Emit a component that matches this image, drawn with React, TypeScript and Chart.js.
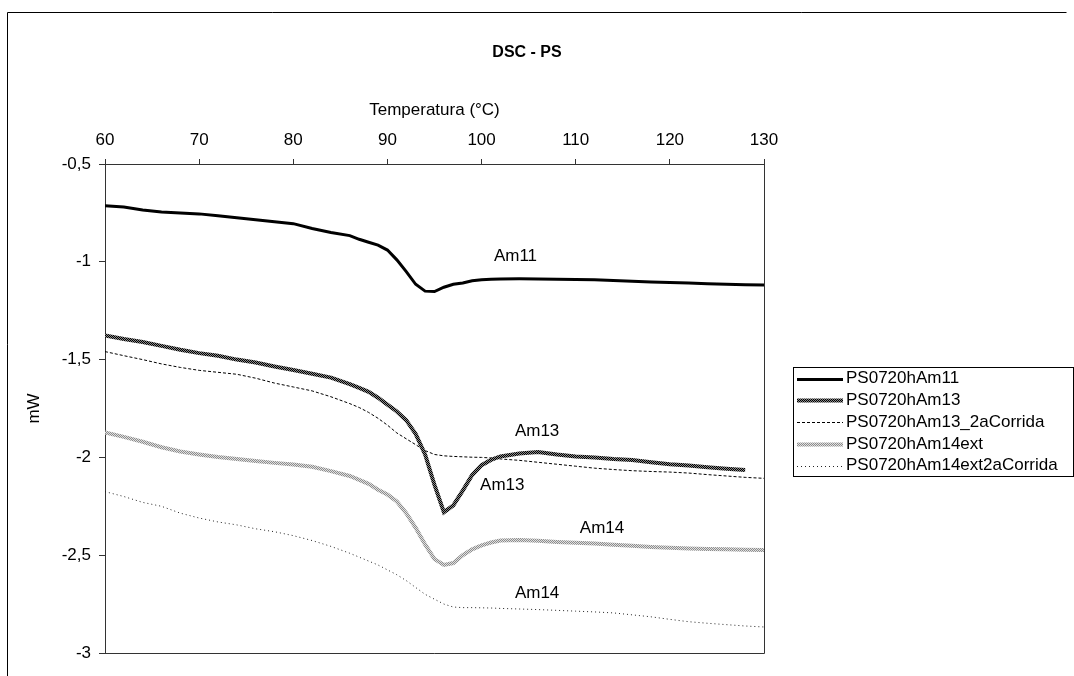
import React, { useEffect, useRef } from 'react';
import { Chart, registerables } from 'chart.js';

Chart.register(...registerables);

const FONT = "'Liberation Sans', Arial, sans-serif";

const chartTitle = 'DSC - PS';
const xAxisTitle = 'Temperatura (°C)';
const yAxisTitle = 'mW';

const temperatures = [60, 62, 64, 66, 68, 70, 72, 74, 76, 78, 80, 82, 84, 86, 87, 88, 89, 90, 91, 92, 93, 94, 95, 96, 97, 98, 99, 100, 101, 102, 104, 106, 108, 110, 112, 114, 116, 118, 120, 122, 124, 126, 128, 130];

const am11 = [-0.714, -0.72, -0.735, -0.745, -0.75, -0.755, -0.765, -0.775, -0.785, -0.795, -0.805, -0.83, -0.85, -0.866, -0.885, -0.9, -0.915, -0.94, -0.99, -1.05, -1.115, -1.15, -1.152, -1.13, -1.115, -1.108, -1.097, -1.092, -1.089, -1.088, -1.087, -1.088, -1.089, -1.09, -1.092, -1.095, -1.1, -1.103, -1.106, -1.109, -1.112, -1.115, -1.117, -1.118];

const am13 = [-1.377, -1.395, -1.41, -1.43, -1.45, -1.467, -1.48, -1.5, -1.515, -1.535, -1.553, -1.572, -1.592, -1.625, -1.645, -1.665, -1.695, -1.73, -1.765, -1.81, -1.88, -1.985, -2.14, -2.28, -2.245, -2.17, -2.09, -2.04, -2.013, -1.995, -1.98, -1.972, -1.985, -1.995, -2.0, -2.008, -2.013, -2.025, -2.035, -2.042, -2.05, -2.058, -2.064, null];

const am13Run2 = [-1.459, -1.48, -1.5, -1.522, -1.54, -1.555, -1.565, -1.575, -1.595, -1.62, -1.64, -1.66, -1.69, -1.725, -1.745, -1.77, -1.8, -1.835, -1.875, -1.905, -1.935, -1.965, -1.985, -1.992, -1.995, -1.997, -1.999, -2.0, -2.003, -2.008, -2.015, -2.025, -2.035, -2.045, -2.055, -2.062, -2.068, -2.072, -2.075, -2.08, -2.088, -2.095, -2.102, -2.107];

const am14ext = [-1.872, -1.895, -1.92, -1.948, -1.97, -1.985, -1.998, -2.008, -2.018, -2.028, -2.036, -2.048, -2.07, -2.095, -2.115, -2.135, -2.165, -2.19, -2.225, -2.285, -2.36, -2.445, -2.52, -2.55, -2.54, -2.5, -2.47, -2.45, -2.435, -2.425, -2.422, -2.426, -2.432, -2.436, -2.44, -2.446, -2.452, -2.458, -2.462, -2.466, -2.468, -2.47, -2.472, -2.474];

const am14extRun2 = [-2.175, -2.2, -2.23, -2.25, -2.285, -2.31, -2.33, -2.345, -2.365, -2.38, -2.4, -2.425, -2.455, -2.49, -2.51, -2.53, -2.55, -2.575, -2.6, -2.63, -2.665, -2.7, -2.725, -2.75, -2.765, -2.768, -2.768, -2.769, -2.77, -2.772, -2.775, -2.778, -2.782, -2.786, -2.79, -2.795, -2.805, -2.815, -2.828, -2.84, -2.848, -2.855, -2.862, -2.867];

const seriesNames = ['PS0720hAm11', 'PS0720hAm13', 'PS0720hAm13_2aCorrida', 'PS0720hAm14ext', 'PS0720hAm14ext2aCorrida'];

const xTickValues = [60, 70, 80, 90, 100, 110, 120, 130];
const yTickValues = [-0.5, -1, -1.5, -2, -2.5, -3];
const yTickLabels = ['-0,5', '-1', '-1,5', '-2', '-2,5', '-3'];

const curveLabels = ['Am11', 'Am13', 'Am13', 'Am14', 'Am14'];
const curveLabelT = [103.6, 105.9, 102.2, 112.8, 105.9];
const curveLabelY = [-0.973, -1.868, -2.143, -2.363, -2.695];

function makePattern(a: string, b: string): CanvasPattern | string {
  const c = document.createElement('canvas');
  c.width = 2;
  c.height = 2;
  const g = c.getContext('2d');
  if (!g) return a;
  g.fillStyle = a;
  g.fillRect(0, 0, 2, 2);
  g.fillStyle = b;
  g.fillRect(1, 0, 1, 1);
  g.fillRect(0, 1, 1, 1);
  const p = g.createPattern(c, 'repeat');
  return p || a;
}

export default function App() {
  const ref = useRef<HTMLCanvasElement | null>(null);

  useEffect(() => {
    document.body.style.margin = '0';
    const canvas = ref.current;
    if (!canvas) return;

    const pat13 = makePattern('#000000', '#8a8a8a');
    const pat14 = makePattern('#8c8c8c', '#e0e0e0');

    const styles = [
      { color: '#000000' as any, width: 3, dash: [] as number[] },
      { color: pat13 as any, width: 4, dash: [] as number[] },
      { color: '#000000' as any, width: 1, dash: [3, 2] },
      { color: pat14 as any, width: 4, dash: [] as number[] },
      { color: '#222222' as any, width: 1, dash: [1, 3] },
    ];
    const seriesValues = [am11, am13, am13Run2, am14ext, am14extRun2];

    const datasets = seriesValues.map((vals, i) => ({
      label: seriesNames[i],
      data: temperatures.map((t, j) => ({ x: t, y: vals[j] })),
      borderColor: styles[i].color,
      borderWidth: styles[i].width,
      borderDash: styles[i].dash,
      pointRadius: 0,
      tension: 0,
      fill: false,
      spanGaps: false,
    }));

    const decor = {
      id: 'decor',
      afterDraw(chart: any) {
        const ctx = chart.ctx as CanvasRenderingContext2D;
        const ca = chart.chartArea;
        const xs = chart.scales.x;
        const ys = chart.scales.y;
        ctx.save();
        // outer frame
        ctx.strokeStyle = '#000';
        ctx.lineWidth = 1;
        ctx.beginPath();
        ctx.moveTo(7.5, 700);
        ctx.lineTo(7.5, 12.5);
        ctx.lineTo(1066.5, 12.5);
        ctx.stroke();
        // plot right / bottom borders
        ctx.strokeStyle = '#333';
        ctx.beginPath();
        ctx.moveTo(Math.round(ca.right) + 0.5, ca.top);
        ctx.lineTo(Math.round(ca.right) + 0.5, Math.round(ca.bottom) + 0.5);
        ctx.lineTo(ca.left, Math.round(ca.bottom) + 0.5);
        ctx.stroke();
        // title
        ctx.fillStyle = '#000';
        ctx.font = `bold 16px ${FONT}`;
        ctx.textAlign = 'center';
        ctx.textBaseline = 'middle';
        ctx.fillText(chartTitle, 527, 53);
        // curve labels
        ctx.font = `17px ${FONT}`;
        curveLabels.forEach((txt, i) => {
          ctx.fillText(txt, xs.getPixelForValue(curveLabelT[i]), ys.getPixelForValue(curveLabelY[i]));
        });
        // legend
        const bx = 793.5, by = 367.5, bw = 280, bh = 109;
        ctx.fillStyle = '#fff';
        ctx.fillRect(bx, by, bw, bh);
        ctx.strokeStyle = '#000';
        ctx.strokeRect(bx, by, bw, bh);
        ctx.textAlign = 'left';
        ctx.fillStyle = '#000';
        seriesNames.forEach((name, i) => {
          const cy = 378.5 + i * 21.8;
          const ly = Math.round(cy) + 0.5;
          ctx.save();
          ctx.strokeStyle = styles[i].color;
          ctx.lineWidth = styles[i].width;
          ctx.setLineDash(styles[i].dash);
          ctx.beginPath();
          ctx.moveTo(797, ly);
          ctx.lineTo(843, ly);
          ctx.stroke();
          ctx.restore();
          ctx.fillText(name, 846, cy);
        });
        ctx.restore();
      },
    };

    const tickFont = { family: FONT, size: 17 };

    const chart = new Chart(canvas, {
      type: 'line',
      data: { datasets: datasets as any },
      options: {
        responsive: false,
        animation: false,
        events: [],
        layout: { padding: { top: 90, left: 20, right: 310, bottom: 23 } },
        plugins: {
          legend: { display: false },
          title: { display: false },
          tooltip: { enabled: false },
        },
        scales: {
          x: {
            type: 'linear',
            position: 'top',
            min: 60,
            max: 130,
            afterBuildTicks: (s: any) => {
              s.ticks = xTickValues.map((v) => ({ value: v }));
            },
            afterFit: (s: any) => {
              s.height = 74;
            },
            grid: { drawOnChartArea: false, drawTicks: true, tickLength: 5, color: '#333' },
            border: { display: true, color: '#333', width: 1 },
            ticks: { font: tickFont, color: '#000', padding: 8, maxRotation: 0, autoSkip: false },
            title: { display: true, text: xAxisTitle, font: tickFont, color: '#000', padding: { top: 10, bottom: 0 } },
          },
          y: {
            type: 'linear',
            position: 'left',
            min: -3,
            max: -0.5,
            afterBuildTicks: (s: any) => {
              s.ticks = yTickValues.map((v) => ({ value: v }));
            },
            afterFit: (s: any) => {
              s.width = 85;
            },
            grid: { drawOnChartArea: false, drawTicks: true, tickLength: 6, color: '#333' },
            border: { display: true, color: '#333', width: 1 },
            ticks: {
              font: tickFont,
              color: '#000',
              padding: 8,
              autoSkip: false,
              callback: (v: any) => {
                const i = yTickValues.findIndex((t) => Math.abs(t - Number(v)) < 1e-9);
                return i >= 0 ? yTickLabels[i] : '';
              },
            },
            title: { display: true, text: yAxisTitle, font: tickFont, color: '#000', padding: { top: 4, bottom: 0 } },
          },
        },
      },
      plugins: [decor],
    });

    return () => chart.destroy();
  }, []);

  return (
    <div style={{ width: 1074, height: 676 }}>
      <canvas ref={ref} width={1074} height={676} style={{ display: 'block' }} />
    </div>
  );
}
